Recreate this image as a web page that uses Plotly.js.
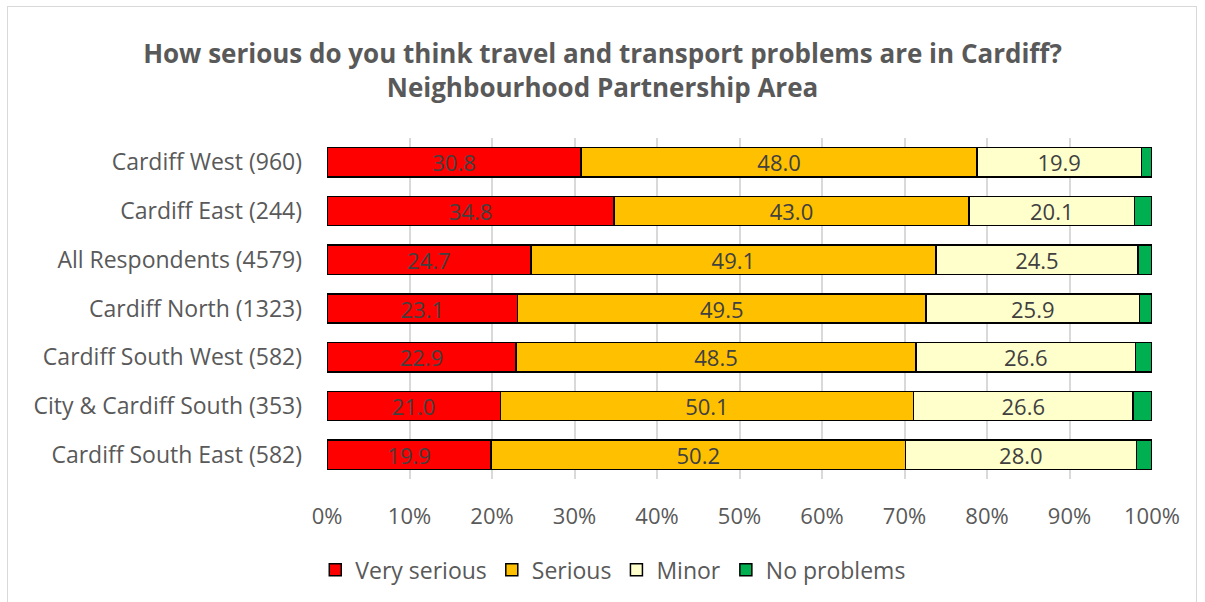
<!DOCTYPE html>
<html><head><meta charset="utf-8">
<script src="https://cdn.plot.ly/plotly-3.0.1.min.js"></script>
<style>
html,body{margin:0;padding:0;background:#fff;}
#frame{position:absolute;left:7px;top:6px;width:1190px;height:600px;border:1px solid #d9d9d9;box-sizing:border-box;}
#chart{position:absolute;left:0;top:0;width:1205px;height:602px;}
</style></head>
<body>
<div id="frame"></div>
<div id="chart"></div>
<script>
const categories = ["Cardiff West (960)","Cardiff East (244)","All Respondents (4579)","Cardiff North (1323)","Cardiff South West (582)","City & Cardiff South (353)","Cardiff South East (582)"];
const verySerious = [30.8,34.8,24.7,23.1,22.9,21.0,19.9];
const serious = [48.0,43.0,49.1,49.5,48.5,50.1,50.2];
const minor = [19.9,20.1,24.5,25.9,26.6,26.6,28.0];
const noProblems = [1.3,2.1,1.7,1.5,2.0,2.3,1.9];
const seriesNames = ["Very serious","Serious","Minor","No problems"];
const colors = ["#ff0000","#ffc000","#ffffcc","#00b050"];
const font = "Open Sans, Noto Sans, sans-serif";

const all = [verySerious, serious, minor, noProblems];
const traces = all.map((vals,i)=>({
  type:"bar", orientation:"h", name:seriesNames[i],
  y:categories, x:vals.map(v=>v/100),
  marker:{color:colors[i], line:{color:"#000000", width:1.5}},
  text: i<3 ? vals.map(v=>v.toFixed(1)) : vals.map(()=>""),
  textposition: i<3 ? "inside" : "none",
  insidetextanchor:"middle",
  constraintext:"none",
  textangle:0,
  textfont:{family:font, size:22, color:"#404040"},
  hoverinfo:"none", cliponaxis:false
}));

const layout = {
  width:1205, height:602,
  paper_bgcolor:"rgba(0,0,0,0)", plot_bgcolor:"rgba(0,0,0,0)",
  barmode:"stack", bargap:0.4,
  margin:{l:327, r:53, t:138, b:122},
  title:{text:"<b>How serious do you think travel and transport problems are in Cardiff?<br>Neighbourhood Partnership Area</b>",
    x:0.5, xanchor:"center", xref:"container", yref:"container", y:0.895, yanchor:"middle",
    font:{family:font, size:26, color:"#595959"}},
  xaxis:{range:[0,1], tickvals:[0,0.1,0.2,0.3,0.4,0.5,0.6,0.7,0.8,0.9,1],
    tickformat:".0%", showgrid:true, gridcolor:"#d9d9d9", gridwidth:2,
    zeroline:false, ticks:"", ticklabelstandoff:22, tickfont:{family:font, size:22, color:"#595959"}},
  yaxis:{autorange:"reversed", categoryorder:"array", categoryarray:categories,
    ticks:"", ticklen:0, showgrid:false, zeroline:false, showline:false,
    ticklabelstandoff:24, automargin:false,
    tickfont:{family:font, size:23, color:"#595959"}},
  uniformtext:{mode:false},
  legend:{orientation:"h", x:0.347, xanchor:"center", y:-0.2, yanchor:"top",
    itemwidth:30, font:{family:font, size:23, color:"#595959"}, traceorder:"normal"},
  showlegend:true
};
Plotly.newPlot("chart", traces, layout, {staticPlot:true});
</script>
</body></html>
